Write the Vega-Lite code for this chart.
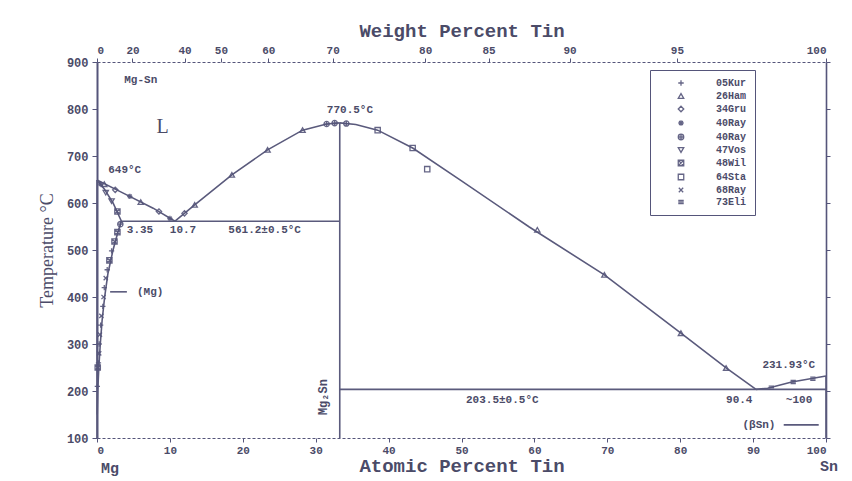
{
  "$schema": "https://vega.github.io/schema/vega-lite/v6.json",
  "width": 729,
  "height": 376,
  "autosize": "none",
  "padding": {"left": 97, "top": 62, "right": 26, "bottom": 43},
  "background": "#ffffff",
  "config": {
    "view": {"stroke": null},
    "axis": {
      "grid": false,
      "domainColor": "#55557a",
      "tickColor": "#55557a",
      "labelColor": "#4b4b68",
      "titleColor": "#4b4b68",
      "labelFont": "Liberation Mono",
      "labelFontWeight": "bold",
      "labelFontSize": 12,
      "titleFont": "Liberation Mono",
      "titleFontWeight": "bold",
      "titleFontSize": 19
    }
  },
  "datasets": {
    "curves": [
      {"c": "A", "o": 1, "x": 0, "T": 649},
      {"c": "A", "o": 2, "x": 3.6, "T": 621},
      {"c": "A", "o": 3, "x": 7.7, "T": 589},
      {"c": "A", "o": 4, "x": 10.7, "T": 561.2},
      {"c": "B", "o": 1, "x": 10.7, "T": 561.2},
      {"c": "B", "o": 2, "x": 13.4, "T": 596},
      {"c": "B", "o": 3, "x": 18.5, "T": 660},
      {"c": "B", "o": 4, "x": 23.4, "T": 713},
      {"c": "B", "o": 5, "x": 28.2, "T": 755},
      {"c": "B", "o": 6, "x": 31.5, "T": 768},
      {"c": "B", "o": 7, "x": 33.3, "T": 770.5},
      {"c": "C", "o": 1, "x": 33.3, "T": 770.5},
      {"c": "C", "o": 2, "x": 35.5, "T": 767},
      {"c": "C", "o": 3, "x": 38.5, "T": 755},
      {"c": "C", "o": 4, "x": 43.3, "T": 717},
      {"c": "C", "o": 5, "x": 50, "T": 647},
      {"c": "C", "o": 6, "x": 59.3, "T": 549},
      {"c": "C", "o": 7, "x": 69.6, "T": 447},
      {"c": "C", "o": 8, "x": 80.1, "T": 323},
      {"c": "C", "o": 9, "x": 86.3, "T": 249},
      {"c": "C", "o": 10, "x": 90.4, "T": 203.5},
      {"c": "D", "o": 1, "x": 90.4, "T": 203.5},
      {"c": "D", "o": 2, "x": 92, "T": 206},
      {"c": "D", "o": 3, "x": 95.3, "T": 219},
      {"c": "D", "o": 4, "x": 100, "T": 231.9},
      {"c": "E", "o": 1, "x": 0, "T": 649},
      {"c": "E", "o": 2, "x": 1, "T": 630},
      {"c": "E", "o": 3, "x": 2.2, "T": 600},
      {"c": "E", "o": 4, "x": 3.35, "T": 561.2},
      {"c": "F", "o": 1, "x": 3.35, "T": 561.2},
      {"c": "F", "o": 2, "x": 2.9, "T": 540},
      {"c": "F", "o": 3, "x": 2.2, "T": 500},
      {"c": "F", "o": 4, "x": 1.5, "T": 450},
      {"c": "F", "o": 5, "x": 1.05, "T": 400},
      {"c": "F", "o": 6, "x": 0.7, "T": 350},
      {"c": "F", "o": 7, "x": 0.45, "T": 300},
      {"c": "F", "o": 8, "x": 0.25, "T": 250},
      {"c": "F", "o": 9, "x": 0.1, "T": 200},
      {"c": "F", "o": 10, "x": 0.03, "T": 150},
      {"c": "G", "o": 1, "x": 3.35, "T": 561.2},
      {"c": "G", "o": 2, "x": 33.3, "T": 561.2},
      {"c": "H", "o": 1, "x": 33.3, "T": 770.5},
      {"c": "H", "o": 2, "x": 33.3, "T": 100},
      {"c": "I", "o": 1, "x": 33.3, "T": 203.5},
      {"c": "I", "o": 2, "x": 100, "T": 203.5},
      {"c": "J", "o": 1, "x": 0, "T": 649},
      {"c": "J", "o": 2, "x": 0, "T": 100},
      {"c": "K", "o": 1, "x": 100, "T": 231.9},
      {"c": "K", "o": 2, "x": 100, "T": 100},
      {"c": "M", "o": 1, "x": 1.8, "T": 411},
      {"c": "M", "o": 2, "x": 4.1, "T": 411},
      {"c": "S", "o": 1, "x": 94.2, "T": 128},
      {"c": "S", "o": 2, "x": 99.0, "T": 128}
    ],
    "points": [
      {"src": "26Ham", "x": 1, "T": 640},
      {"src": "34Gru", "x": 2.5, "T": 628},
      {"src": "40Ray1", "x": 4.5, "T": 614},
      {"src": "26Ham", "x": 6, "T": 602},
      {"src": "34Gru", "x": 8.5, "T": 582},
      {"src": "40Ray1", "x": 10, "T": 567},
      {"src": "34Gru", "x": 12, "T": 578},
      {"src": "26Ham", "x": 13.4, "T": 596},
      {"src": "26Ham", "x": 18.5, "T": 660},
      {"src": "26Ham", "x": 23.4, "T": 713},
      {"src": "26Ham", "x": 28.2, "T": 755},
      {"src": "40Ray2", "x": 31.5, "T": 768},
      {"src": "40Ray2", "x": 32.6, "T": 770},
      {"src": "40Ray2", "x": 34.2, "T": 769},
      {"src": "64Sta", "x": 38.5, "T": 755},
      {"src": "64Sta", "x": 43.3, "T": 717},
      {"src": "64Sta", "x": 45.3, "T": 672},
      {"src": "26Ham", "x": 60.4, "T": 543},
      {"src": "26Ham", "x": 69.6, "T": 447},
      {"src": "26Ham", "x": 80.1, "T": 323},
      {"src": "26Ham", "x": 86.3, "T": 249},
      {"src": "73Eli", "x": 92.5, "T": 207},
      {"src": "73Eli", "x": 95.5, "T": 219},
      {"src": "73Eli", "x": 98.2, "T": 226},
      {"src": "40Ray1", "x": 0.5, "T": 640},
      {"src": "47Vos", "x": 1.2, "T": 622},
      {"src": "47Vos", "x": 2, "T": 604},
      {"src": "48Wil", "x": 2.8, "T": 582},
      {"src": "40Ray2", "x": 3.2, "T": 555},
      {"src": "48Wil", "x": 2.8, "T": 538},
      {"src": "48Wil", "x": 2.4, "T": 518},
      {"src": "05Kur", "x": 2.0, "T": 498},
      {"src": "48Wil", "x": 1.7, "T": 478},
      {"src": "05Kur", "x": 1.4, "T": 458},
      {"src": "68Ray", "x": 1.2, "T": 440},
      {"src": "05Kur", "x": 1.0, "T": 420},
      {"src": "68Ray", "x": 0.9, "T": 400},
      {"src": "05Kur", "x": 0.8, "T": 380},
      {"src": "68Ray", "x": 0.6, "T": 360},
      {"src": "05Kur", "x": 0.5, "T": 340},
      {"src": "68Ray", "x": 0.4, "T": 320},
      {"src": "05Kur", "x": 0.3, "T": 300},
      {"src": "68Ray", "x": 0.3, "T": 280},
      {"src": "05Kur", "x": 0.2, "T": 260},
      {"src": "48Wil", "x": 0.1, "T": 250},
      {"src": "05Kur", "x": 0.05, "T": 210}
    ],
    "notes": [
      {"label": "649°C", "x": 3.8, "T": 670},
      {"label": "3.35", "x": 5.9, "T": 543},
      {"label": "10.7", "x": 11.8, "T": 543},
      {"label": "561.2±0.5°C", "x": 23, "T": 543},
      {"label": "770.5°C", "x": 34.7, "T": 798},
      {"label": "(Mg)", "x": 7.3, "T": 411},
      {"label": "203.5±0.5°C", "x": 55.6, "T": 181},
      {"label": "90.4", "x": 88.1, "T": 181},
      {"label": "~100", "x": 96.3, "T": 181},
      {"label": "(βSn)", "x": 90.8, "T": 128},
      {"label": "231.93°C", "x": 94.9, "T": 255},
      {"label": "Mg-Sn", "x": 6, "T": 862}
    ],
    "big": [
      {"label": "L", "x": 9.0, "T": 762}
    ],
    "ends": [
      {"label": "Mg", "x": 1.8, "T": 36},
      {"label": "Sn", "x": 100.4, "T": 40}
    ],
    "phase": [
      {"label": "Mg₂Sn", "x": 31.0, "T": 187}
    ]
  },
  "resolve": {"axis": {"x": "independent", "y": "independent"}},
  "layer": [
    {
      "data": {"name": "curves"},
      "mark": {"type": "line", "color": "#5a5a7c", "strokeWidth": 1.6},
      "encoding": {
        "x": {
          "field": "x", "type": "quantitative",
          "scale": {"domain": [0, 100], "nice": false, "zero": false},
          "axis": {
            "orient": "bottom",
            "values": [0, 10, 20, 30, 40, 50, 60, 70, 80, 90, 100],
            "tickSize": 4, "labelPadding": 2, "labelFontSize": 11,
            "domainDash": [3, 2], "domainWidth": 1.2,
            "title": "Atomic Percent Tin", "titlePadding": 1
          }
        },
        "y": {
          "field": "T", "type": "quantitative",
          "scale": {"domain": [100, 900], "nice": false, "zero": false},
          "axis": {
            "orient": "left",
            "values": [100, 200, 300, 400, 500, 600, 700, 800, 900],
            "tickSize": 5, "labelPadding": 4, "domainWidth": 2,
            "title": "Temperature °C", "titleFont": "Liberation Serif",
            "titleFontWeight": "normal", "titleFontSize": 18, "titlePadding": 10
          }
        },
        "detail": {"field": "c", "type": "nominal"},
        "order": {"field": "o", "type": "quantitative"}
      }
    },
    {
      "data": {"name": "points"},
      "mark": {"type": "point", "filled": false, "strokeWidth": 1.3, "color": "#55557a", "opacity": 0.9},
      "encoding": {
        "x": {"field": "x", "type": "quantitative", "axis": null},
        "y": {
          "field": "T", "type": "quantitative",
          "axis": {
            "orient": "right", "labels": false, "title": null,
            "values": [100, 200, 300, 400, 500, 600, 700, 800, 900],
            "tickSize": 4, "domainWidth": 1.6
          }
        },
        "size": {"value": 28},
        "shape": {
          "field": "src", "type": "nominal",
          "scale": {
            "domain": ["05Kur", "26Ham", "34Gru", "40Ray1", "40Ray2", "47Vos", "48Wil", "64Sta", "68Ray", "73Eli"],
            "range": [
              "M-1,0H1M0,-1V1",
              "triangle-up",
              "diamond",
              "M-1,0H1M0,-1V1M-0.7,-0.7L0.7,0.7M-0.7,0.7L0.7,-0.7",
              "M-1,0A1,1,0,1,0,1,0A1,1,0,1,0,-1,0M-1,0H1M0,-1V1",
              "triangle-down",
              "M-1,-1H1V1H-1ZM-1,-1L1,1M-1,1L1,-1",
              "square",
              "M-0.8,-0.8L0.8,0.8M-0.8,0.8L0.8,-0.8",
              "M-1,0H1M-1,-0.6H1M-1,0.6H1"
            ]
          },
          "legend": {
            "orient": "none", "legendX": 553, "legendY": 8,
            "title": null,
            "strokeColor": "#55557a", "padding": 8,
            "symbolOffset": 18, "labelOffset": 30,
            "labelFont": "Liberation Mono", "labelFontSize": 10, "labelFontWeight": "bold",
            "labelColor": "#4b4b68",
            "symbolStrokeColor": "#55557a", "symbolFillColor": "transparent",
            "symbolSize": 30, "symbolStrokeWidth": 1.3, "rowPadding": 2,
            "labelExpr": "slice(datum.label, 0, 5)"
          }
        }
      }
    },
    {
      "data": {"name": "notes"},
      "mark": {"type": "text", "font": "Liberation Mono", "fontWeight": "bold", "fontSize": 11, "color": "#4b4b68", "align": "center", "baseline": "middle"},
      "encoding": {
        "x": {
          "field": "x", "type": "quantitative",
          "axis": {
            "orient": "top",
            "values": [0, 4.869, 12.01, 16.995, 23.495, 32.329, 45.023, 53.708, 64.821, 79.551, 100],
            "labelExpr": "datum.value < 1 ? '0' : datum.value < 8 ? '20' : datum.value < 14 ? '40' : datum.value < 20 ? '50' : datum.value < 28 ? '60' : datum.value < 40 ? '70' : datum.value < 50 ? '80' : datum.value < 60 ? '85' : datum.value < 70 ? '90' : datum.value < 90 ? '95' : '100'",
            "tickSize": 4, "labelPadding": 3, "labelFontSize": 11,
            "domainDash": [3, 2], "domainWidth": 1.2,
            "title": "Weight Percent Tin", "titlePadding": 4
          }
        },
        "y": {"field": "T", "type": "quantitative", "axis": null},
        "text": {"field": "label"}
      }
    },
    {
      "data": {"name": "big"},
      "mark": {"type": "text", "font": "Liberation Serif", "fontSize": 20, "color": "#4b4b68", "align": "center", "baseline": "middle"},
      "encoding": {
        "x": {"field": "x", "type": "quantitative", "axis": null},
        "y": {"field": "T", "type": "quantitative", "axis": null},
        "text": {"field": "label"}
      }
    },
    {
      "data": {"name": "ends"},
      "mark": {"type": "text", "font": "Liberation Mono", "fontWeight": "bold", "fontSize": 15, "color": "#4b4b68", "align": "center", "baseline": "middle"},
      "encoding": {
        "x": {"field": "x", "type": "quantitative", "axis": null},
        "y": {"field": "T", "type": "quantitative", "axis": null},
        "text": {"field": "label"}
      }
    },
    {
      "data": {"name": "phase"},
      "mark": {"type": "text", "font": "Liberation Mono", "fontWeight": "bold", "fontSize": 12, "color": "#4b4b68", "align": "center", "baseline": "middle", "angle": 270},
      "encoding": {
        "x": {"field": "x", "type": "quantitative", "axis": null},
        "y": {"field": "T", "type": "quantitative", "axis": null},
        "text": {"field": "label"}
      }
    }
  ]
}
